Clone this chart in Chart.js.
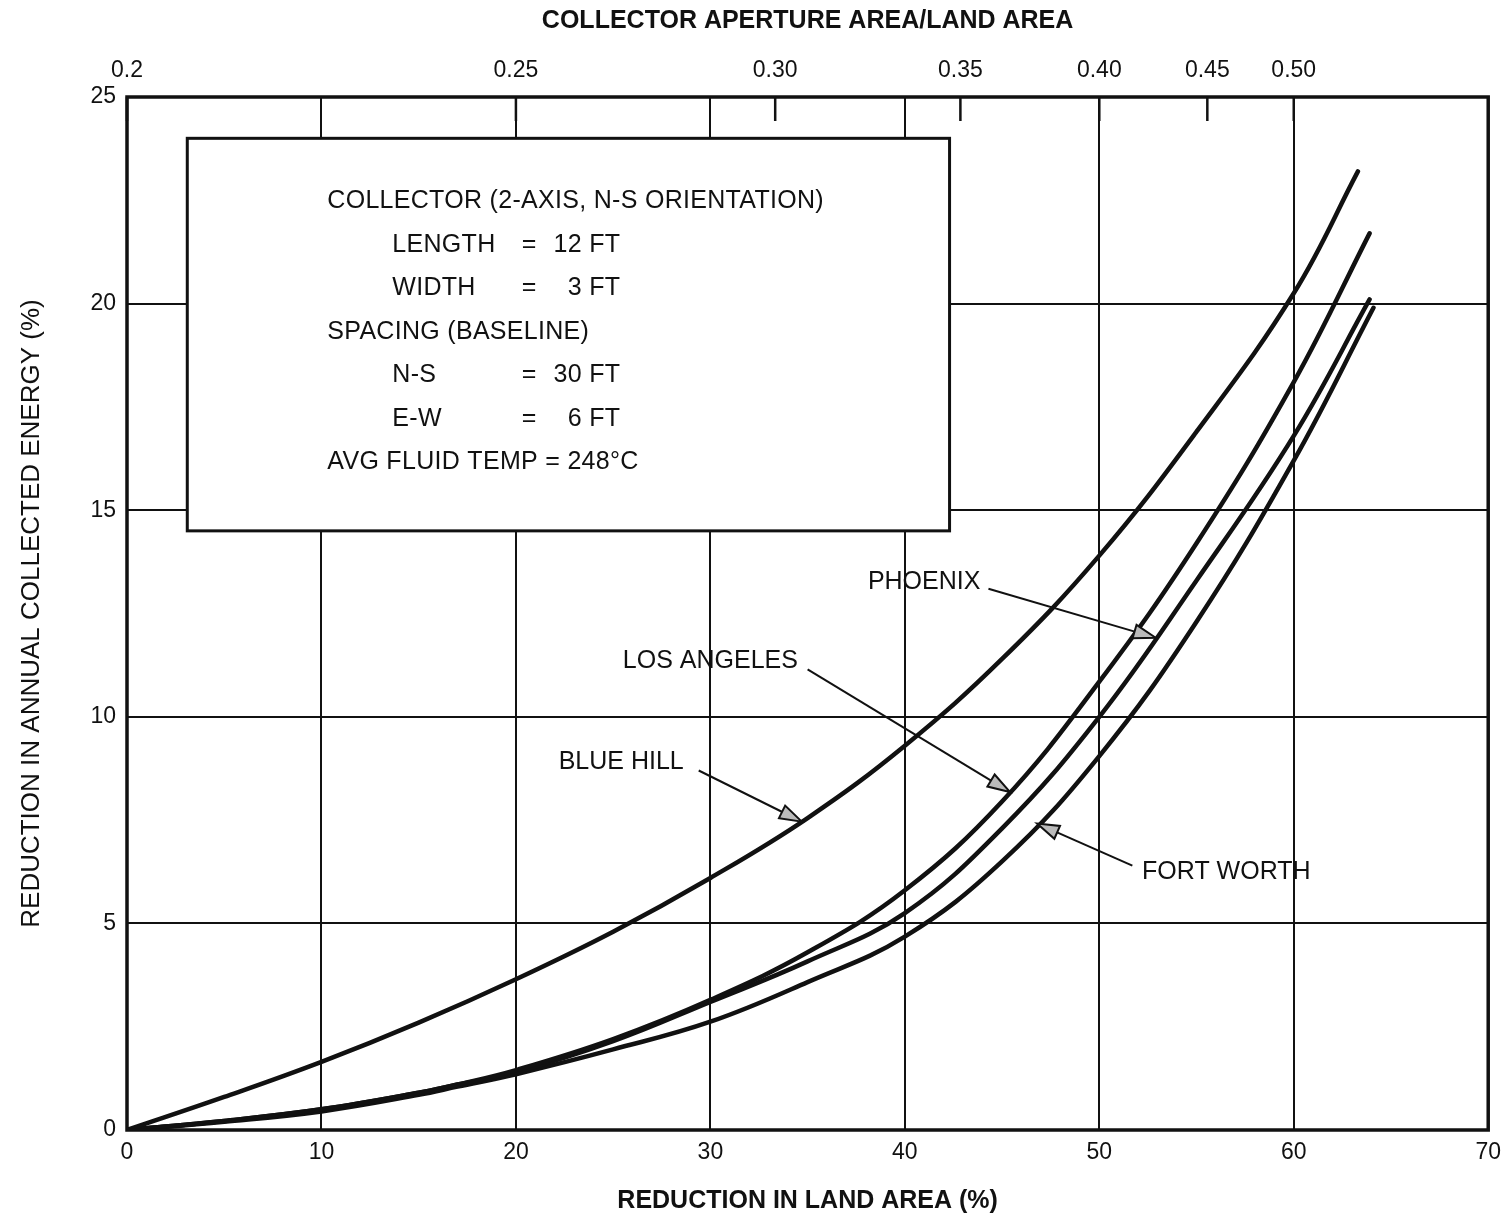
<!DOCTYPE html>
<html>
<head>
<meta charset="utf-8">
<title>Reduction in land area vs collected energy</title>
<script src="https://cdn.jsdelivr.net/npm/chart.js@4.4.1/dist/chart.umd.min.js"></script>
<style>
  html, body { margin: 0; padding: 0; background: #fff; }
  #wrap { width: 1510px; height: 1217px; }
</style>
</head>
<body>
<div id="wrap"><canvas id="chart" width="1510" height="1217"></canvas></div>
<script>
// ================== Data ==================
const blueHillX = [0, 5, 10, 15, 20, 25, 30, 35, 40, 45, 50, 55, 60, 63.3];
const blueHillY = [0, 0.8, 1.65, 2.6, 3.65, 4.8, 6.1, 7.55, 9.3, 11.4, 13.9, 16.9, 20.25, 23.2];

const losAngelesX = [0, 5, 10, 15, 17, 20, 25, 30, 35, 40, 45, 50, 55, 60, 63.9];
const losAngelesY = [0, 0.22, 0.5, 0.9, 1.1, 1.45, 2.2, 3.15, 4.3, 5.8, 7.95, 10.85, 14.2, 18.1, 21.7];

const phoenixX = [0, 5, 10, 15, 17, 20, 25, 30, 35, 40, 45, 50, 55, 60, 63.9];
const phoenixY = [0, 0.22, 0.5, 0.9, 1.1, 1.4, 2.15, 3.1, 4.08, 5.25, 7.3, 10.0, 13.3, 16.8, 20.1];

const fortWorthX = [0, 5, 10, 15, 17, 20, 25, 30, 35, 40, 45, 50, 55, 60, 64.1];
const fortWorthY = [0, 0.2, 0.45, 0.85, 1.05, 1.35, 1.95, 2.62, 3.58, 4.68, 6.5, 9.05, 12.3, 16.2, 19.9];

// top axis: collector aperture area / land area
const BASE_RATIO = 0.2;   // 12x3 ft collector on 30x6 ft spacing
const ratioTicks  = [0.2, 0.25, 0.30, 0.35, 0.40, 0.45, 0.50];
const ratioLabels = ['0.2', '0.25', '0.30', '0.35', '0.40', '0.45', '0.50'];

const infoLines = [
  ['COLLECTOR (2-AXIS, N-S ORIENTATION)'],
  ['LENGTH', '=', '12 FT'],
  ['WIDTH', '=', '3 FT'],
  ['SPACING (BASELINE)'],
  ['N-S', '=', '30 FT'],
  ['E-W', '=', '6 FT'],
  ['AVG FLUID TEMP = 248°C'],
];

// ================== Layout / styles ==================
const FONT = '"Liberation Sans", Arial, Helvetica, sans-serif';
const INK = '#111';

// label text (left, middle) -> arrow start -> arrow tip on a curve at tipX
const notes = [
  { text: 'PHOENIX',     lx: 38.1, ly: 13.25, sx: 44.3, sy: 13.1, tipX: 52.9, xs: phoenixX,    ys: phoenixY },
  { text: 'LOS ANGELES', lx: 25.5, ly: 11.35, sx: 35.0, sy: 11.15, tipX: 45.4, xs: losAngelesX, ys: losAngelesY },
  { text: 'BLUE HILL',   lx: 22.2, ly: 8.9,   sx: 29.4, sy: 8.7,  tipX: 34.7, xs: blueHillX,   ys: blueHillY },
  { text: 'FORT WORTH',  lx: 52.2, ly: 6.25,  sx: 51.7, sy: 6.4,  tipX: 46.8, xs: fortWorthX,  ys: fortWorthY },
];
const infoBox = { x0: 3.1, x1: 42.3, y0: 14.5, y1: 24.0 };

function toPts(xs, ys){ return xs.map((x, i) => ({ x, y: ys[i] })); }
function valueAt(xs, ys, x){
  for(let i = 1; i < xs.length; i++){
    if(x <= xs[i]){
      const t = (x - xs[i-1]) / (xs[i] - xs[i-1]);
      return ys[i-1] + t * (ys[i] - ys[i-1]);
    }
  }
  return ys[ys.length - 1];
}

function curve(label, xs, ys){
  return {
    label, data: toPts(xs, ys), showLine: true,
    borderColor: INK, borderWidth: 4.5, pointRadius: 0,
    tension: 0.4, borderCapStyle: 'round',
  };
}

// ================== Plugins ==================
const whiteBg = {
  id: 'whiteBg',
  beforeDraw(chart){
    const c = chart.ctx;
    c.save(); c.fillStyle = '#fff'; c.fillRect(0, 0, chart.width, chart.height); c.restore();
  }
};

const extras = {
  id: 'extras',
  afterDatasetsDraw(chart){
    const c = chart.ctx, a = chart.chartArea;
    const sx = chart.scales.x, sy = chart.scales.y, top = chart.scales.x2;
    c.save();

    // frame
    c.strokeStyle = INK; c.lineWidth = 3.5;
    c.strokeRect(a.left, a.top, a.right - a.left, a.bottom - a.top);

    // short inward ticks of the top axis
    c.lineWidth = 2.5;
    top.ticks.forEach(t => {
      const px = top.getPixelForValue(t.value);
      c.beginPath(); c.moveTo(px, a.top); c.lineTo(px, a.top + 24); c.stroke();
    });

    // info box
    const bx = sx.getPixelForValue(infoBox.x0), bx1 = sx.getPixelForValue(infoBox.x1);
    const by = sy.getPixelForValue(infoBox.y1), by1 = sy.getPixelForValue(infoBox.y0);
    c.fillStyle = '#fff';
    c.fillRect(bx, by, bx1 - bx, by1 - by);
    c.lineWidth = 3;
    c.strokeRect(bx, by, bx1 - bx, by1 - by);

    c.fillStyle = INK;
    c.font = '25px ' + FONT;
    c.letterSpacing = '0.3px';
    c.textBaseline = 'middle';
    infoLines.forEach((ln, i) => {
      const y = by + 63 + i * 43.5;
      if(ln.length === 1){
        c.textAlign = 'left'; c.fillText(ln[0], bx + 140, y);
      } else {
        c.textAlign = 'left'; c.fillText(ln[0], bx + 205, y);
        c.textAlign = 'center'; c.fillText(ln[1], bx + 342, y);
        c.textAlign = 'right'; c.fillText(ln[2], bx + 433, y);
      }
    });

    // curve labels with arrows
    c.textAlign = 'left';
    c.letterSpacing = '0px';
    notes.forEach(n => {
      c.fillText(n.text, sx.getPixelForValue(n.lx), sy.getPixelForValue(n.ly));
      const x0 = sx.getPixelForValue(n.sx), y0 = sy.getPixelForValue(n.sy);
      const x1 = sx.getPixelForValue(n.tipX), y1 = sy.getPixelForValue(valueAt(n.xs, n.ys, n.tipX));
      const ang = Math.atan2(y1 - y0, x1 - x0);
      c.lineWidth = 2;
      c.beginPath(); c.moveTo(x0, y0); c.lineTo(x1 - 20 * Math.cos(ang), y1 - 20 * Math.sin(ang)); c.stroke();
      c.beginPath();
      c.moveTo(x1, y1);
      c.lineTo(x1 - 22 * Math.cos(ang) + 7 * Math.sin(ang), y1 - 22 * Math.sin(ang) - 7 * Math.cos(ang));
      c.lineTo(x1 - 22 * Math.cos(ang) - 7 * Math.sin(ang), y1 - 22 * Math.sin(ang) + 7 * Math.cos(ang));
      c.closePath();
      c.fillStyle = '#bbb'; c.fill(); c.stroke();
      c.fillStyle = INK;
    });
    c.restore();
  }
};

// ================== Chart ==================
const gridOpts = { color: INK, lineWidth: 2, drawTicks: false };
const tickFont = { family: FONT, size: 23 };
const titleFont = { family: FONT, size: 25, weight: 'bold' };

new Chart(document.getElementById('chart'), {
  type: 'scatter',
  data: {
    datasets: [
      curve('BLUE HILL', blueHillX, blueHillY),
      curve('LOS ANGELES', losAngelesX, losAngelesY),
      curve('PHOENIX', phoenixX, phoenixY),
      curve('FORT WORTH', fortWorthX, fortWorthY),
    ]
  },
  options: {
    responsive: false,
    animation: false,
    layout: { padding: { left: 0, right: 20, top: 0, bottom: 0 } },
    plugins: { legend: { display: false }, tooltip: { enabled: false } },
    scales: {
      x: {
        type: 'linear', position: 'bottom', min: 0, max: 70,
        ticks: { stepSize: 10, color: INK, font: tickFont, padding: 9 },
        grid: gridOpts,
        border: { display: false },
        title: { display: true, text: 'REDUCTION IN LAND AREA (%)', color: INK,
                 font: titleFont, padding: { top: 0, bottom: 1 } },
        afterFit(s){ s.height = 87; }
      },
      x2: {
        type: 'linear', position: 'top', min: 0, max: 70,
        afterBuildTicks(s){ s.ticks = ratioTicks.map(r => ({ value: 100 * (1 - BASE_RATIO / r) })); },
        ticks: { autoSkip: false, maxRotation: 0, color: INK, font: tickFont, padding: 13,
                 callback: (v, i) => ratioLabels[i] },
        grid: { display: false, drawTicks: false },
        border: { display: false },
        title: { display: true, text: 'COLLECTOR APERTURE AREA/LAND AREA', color: INK,
                 font: titleFont, padding: { top: 6, bottom: 0 } },
        afterFit(s){ s.height = 97; }
      },
      y: {
        type: 'linear', min: 0, max: 25,
        ticks: { stepSize: 5, color: INK, font: tickFont, padding: 11 },
        grid: gridOpts,
        border: { display: false },
        title: { display: true, text: 'REDUCTION IN ANNUAL COLLECTED ENERGY (%)', color: INK,
                 font: { family: FONT, size: 26 }, padding: { top: 16, bottom: 0 } },
        afterFit(s){ s.width = 127; }
      }
    }
  },
  plugins: [whiteBg, extras]
});
</script>
</body>
</html>
